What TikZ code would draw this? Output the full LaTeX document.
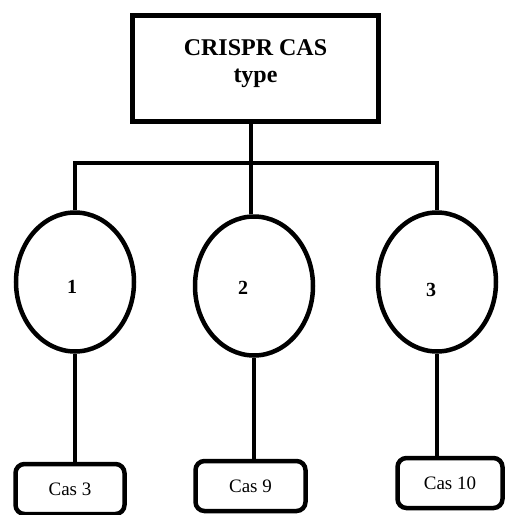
\documentclass[tikz,border=0pt]{standalone}
\usepackage{fontspec}
\setmainfont{Liberation Serif}
\usetikzlibrary{shapes.geometric}

\begin{document}
\begin{tikzpicture}[x=1pt, y=-1pt, line width=4.5pt,
    topbox/.style={draw, rectangle, minimum width=246pt, minimum height=106pt},
    toptext/.style={align=center, font=\bfseries\fontsize{24}{27}\selectfont},
    typenode/.style={draw, ellipse, minimum width=118pt, minimum height=139pt},
    typelabel/.style={font=\bfseries\fontsize{20}{24}\selectfont},
    casbox/.style={draw, rectangle, rounded corners=9pt, minimum height=50pt,
        font=\fontsize{19}{23}\selectfont}]
    % Keep the page at the size of the reference
    \useasboundingbox (0,0) rectangle (506,515);

    % Top box
    \node[topbox] (title) at (255.5,68.5) {};
    \node[toptext] (titletext) at ([shift={(0,-5)}]title.center) {CRISPR CAS\\type};

    % The three types
    \node[typenode] (t1) at (75,282) {};
    \node[typenode] (t2) at (254,286) {};
    \node[typenode] (t3) at (437,282) {};
    \node[typelabel] (n1) at ([shift={(-3,5)}]t1.center) {1};
    \node[typelabel] (n2) at ([shift={(-11,2)}]t2.center) {2};
    \node[typelabel] (n3) at ([shift={(-6,8)}]t3.center) {3};

    % Cas proteins at the bottom
    \node[casbox, minimum width=109pt] (c1) at (70,489) {Cas 3};
    \node[casbox, minimum width=110pt] (c2) at (250.5,486) {Cas 9};
    \node[casbox, minimum width=105pt] (c3) at (450,483) {Cas 10};

    % Branching from the top box
    \coordinate (split) at (251,163);
    \draw (split |- title.south) -- (split);
    \draw (t1.north) |- (split) -| (t3.north);
    \draw (split) -- (split |- t2.north);

    % Each type to its protein
    \draw (t1.south) -- (t1.south |- c1.north);
    \draw (t2.south) -- (t2.south |- c2.north);
    \draw (t3.south) -- (t3.south |- c3.north);
\end{tikzpicture}
\end{document}
